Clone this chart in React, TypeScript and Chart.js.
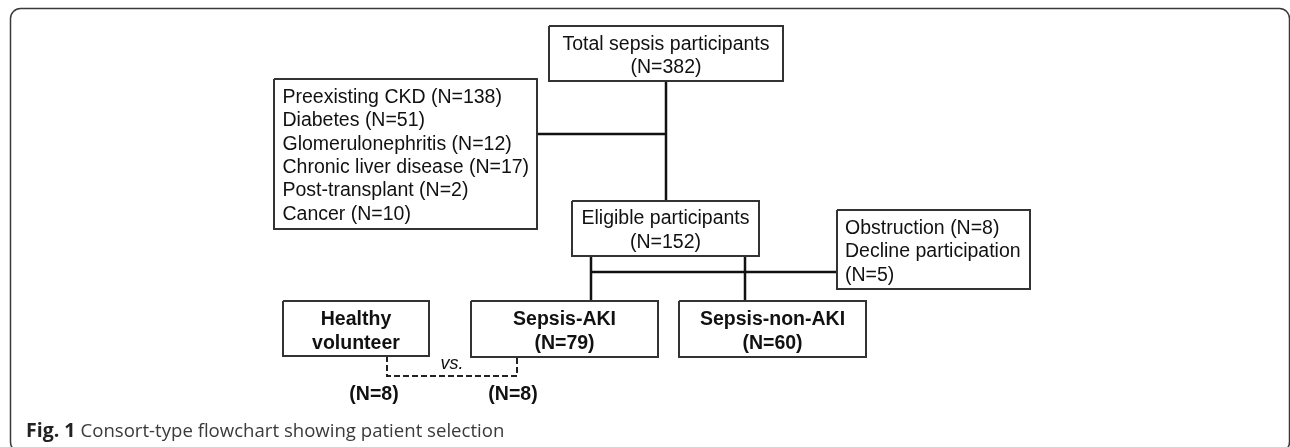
import React, { useEffect, useRef } from "react";
import { Chart, registerables } from "chart.js";

Chart.register(...registerables);

const totalN = 382;
const exclusionLabels = [
  "Preexisting CKD",
  "Diabetes",
  "Glomerulonephritis",
  "Chronic liver disease",
  "Post-transplant",
  "Cancer",
];
const exclusionN = [138, 51, 12, 17, 2, 10];
const eligibleN = 152;
const lateExclusionN = [8, 5]; // Obstruction, Decline participation
const groupLabels = ["Sepsis-AKI", "Sepsis-non-AKI"];
const groupN = [79, 60];
const subsampleN = [8, 8]; // Healthy volunteer, Sepsis-AKI
const captionBold = "Fig. 1";
const captionText = "Consort-type flowchart showing patient selection";

// ---- Layout (in scale units, 1 unit = 1 px) ----
const W = 1290;
const H = 447;
type Box = { x0: number; y0: number; x1: number; y1: number };
const B: Record<string, Box> = {
  total: { x0: 549, y0: 26, x1: 783, y1: 81 },
  excl: { x0: 274, y0: 79, x1: 537, y1: 229 },
  eligible: { x0: 572, y0: 201, x1: 759, y1: 256 },
  late: { x0: 837, y0: 210, x1: 1030, y1: 289 },
  healthy: { x0: 283, y0: 301, x1: 429, y1: 356 },
  aki: { x0: 471, y0: 301, x1: 658, y1: 357 },
  nonaki: { x0: 679, y0: 301, x1: 866, y1: 357 },
};

const rectPts = (b: Box) => [
  { x: b.x0, y: b.y0 },
  { x: b.x1, y: b.y0 },
  { x: b.x1, y: b.y1 },
  { x: b.x0, y: b.y1 },
  { x: b.x0, y: b.y0 },
];

const FONT = "'Liberation Sans', Arial, sans-serif";
const REG = `19.5px ${FONT}`;
const BOLD = `bold 19.5px ${FONT}`;
const DY = 1.5;

type T = { text: string; x: number; y: number; font: string; align: CanvasTextAlign };

const cx = (b: Box) => (b.x0 + b.x1) / 2;

function buildTexts(): T[] {
  const t: T[] = [];
  t.push({ text: "Total sepsis participants", x: cx(B.total), y: 43, font: REG, align: "center" });
  t.push({ text: `(N=${totalN})`, x: cx(B.total), y: 66, font: REG, align: "center" });
  exclusionLabels.forEach((l, i) => {
    t.push({ text: `${l} (N=${exclusionN[i]})`, x: 282.5, y: 96 + i * 23.4, font: REG, align: "left" });
  });
  t.push({ text: "Eligible participants", x: cx(B.eligible), y: 217, font: REG, align: "center" });
  t.push({ text: `(N=${eligibleN})`, x: cx(B.eligible), y: 241, font: REG, align: "center" });
  t.push({ text: `Obstruction (N=${lateExclusionN[0]})`, x: 845, y: 227, font: REG, align: "left" });
  t.push({ text: "Decline participation", x: 845, y: 250.5, font: REG, align: "left" });
  t.push({ text: `(N=${lateExclusionN[1]})`, x: 845, y: 274, font: REG, align: "left" });
  t.push({ text: "Healthy", x: cx(B.healthy), y: 318, font: BOLD, align: "center" });
  t.push({ text: "volunteer", x: cx(B.healthy), y: 342, font: BOLD, align: "center" });
  t.push({ text: groupLabels[0], x: cx(B.aki), y: 318, font: BOLD, align: "center" });
  t.push({ text: `(N=${groupN[0]})`, x: cx(B.aki), y: 342, font: BOLD, align: "center" });
  t.push({ text: groupLabels[1], x: cx(B.nonaki), y: 318, font: BOLD, align: "center" });
  t.push({ text: `(N=${groupN[1]})`, x: cx(B.nonaki), y: 342, font: BOLD, align: "center" });
  t.push({ text: "vs.", x: 452, y: 362, font: `italic 18px ${FONT}`, align: "center" });
  t.push({ text: `(N=${subsampleN[0]})`, x: 374, y: 393, font: BOLD, align: "center" });
  t.push({ text: `(N=${subsampleN[1]})`, x: 513, y: 393, font: BOLD, align: "center" });
  return t;
}

const flowPlugin = {
  id: "flowText",
  beforeDatasetsDraw(chart: any) {
    const { ctx, scales } = chart;
    const X = (v: number) => scales.x.getPixelForValue(v);
    const Y = (v: number) => scales.y.getPixelForValue(v);
    ctx.save();
    ctx.strokeStyle = "#3a3a3a";
    ctx.lineWidth = 1.5;
    ctx.beginPath();
    (ctx as any).roundRect(X(10.5), Y(8.5), X(1289.5) - X(10.5), Y(452) - Y(8.5), 10);
    ctx.stroke();
    ctx.restore();
  },
  afterDatasetsDraw(chart: any) {
    const { ctx, scales } = chart;
    const X = (v: number) => scales.x.getPixelForValue(v);
    const Y = (v: number) => scales.y.getPixelForValue(v);
    ctx.save();
    ctx.fillStyle = "#111";
    ctx.textBaseline = "middle";
    for (const t of buildTexts()) {
      ctx.font = t.font;
      ctx.textAlign = t.align;
      ctx.fillText(t.text, X(t.x), Y(t.y + DY));
    }
    // caption
    ctx.textAlign = "left";
    ctx.font = `bold 19.5px 'Open Sans', sans-serif`;
    ctx.fillStyle = "#222";
    ctx.fillText(captionBold, X(26), Y(431.5));
    const w = ctx.measureText(captionBold + " ").width;
    ctx.font = `18.6px 'Open Sans', sans-serif`;
    ctx.fillStyle = "#3a3a3a";
    ctx.fillText(captionText, X(26) + w, Y(431.5));
    ctx.restore();
  },
};

const line = (pts: { x: number; y: number }[], color = "#111", width = 2.5, dash: number[] = []) => ({
  data: pts,
  showLine: true,
  pointRadius: 0,
  borderColor: color,
  borderWidth: width,
  borderDash: dash,
  borderJoinStyle: "miter" as const,
  borderCapStyle: "butt" as const,
  fill: false,
  tension: 0,
});

export default function App() {
  const ref = useRef<HTMLCanvasElement>(null);
  useEffect(() => {
    if (!ref.current) return;
    const boxColor = "#333";
    const datasets: any[] = [
      ...Object.values(B).map((b) => line(rectPts(b), boxColor, 2)),
      line([{ x: 666, y: B.total.y1 }, { x: 666, y: B.eligible.y0 }]),
      line([{ x: B.excl.x1, y: 134 }, { x: 666, y: 134 }]),
      line([{ x: 591, y: B.eligible.y1 }, { x: 591, y: B.aki.y0 }]),
      line([{ x: 745, y: B.eligible.y1 }, { x: 745, y: B.nonaki.y0 }]),
      line([{ x: 591, y: 272 }, { x: B.late.x0, y: 272 }]),
      line(
        [
          { x: 387, y: B.healthy.y1 },
          { x: 387, y: 376 },
          { x: 517, y: 376 },
          { x: 517, y: B.aki.y1 },
        ],
        "#222",
        2,
        [6, 3]
      ),
    ];
    const chart = new Chart(ref.current, {
      type: "scatter",
      data: { datasets },
      options: {
        animation: false,
        responsive: false,
        maintainAspectRatio: false,
        devicePixelRatio: 1,
        layout: { padding: 0 },
        plugins: { legend: { display: false }, tooltip: { enabled: false } },
        events: [],
        scales: {
          x: { type: "linear", min: 0, max: W, display: false },
          y: { type: "linear", min: 0, max: H, reverse: true, display: false },
        },
      },
      plugins: [flowPlugin],
    });
    return () => chart.destroy();
  }, []);
  return (
    <div style={{ position: "absolute", left: 0, top: 0, width: W, height: H, background: "#fff" }}>
      <canvas ref={ref} width={W} height={H} style={{ width: W, height: H, display: "block" }} />
    </div>
  );
}
